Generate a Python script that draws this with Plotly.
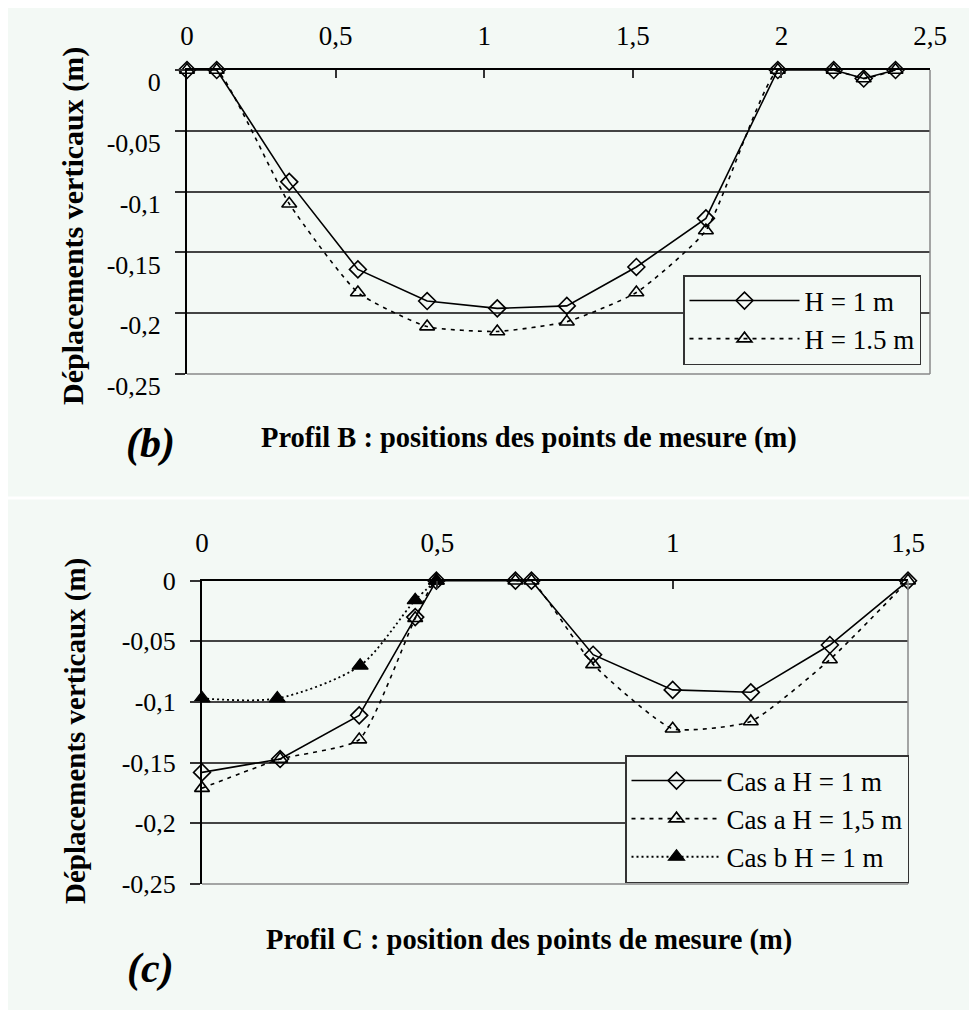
import plotly.graph_objects as go

# ---------------- data: Profil B ----------------
x_b = [0, 0.1, 0.344, 0.575, 0.808, 1.044, 1.278, 1.512, 1.746, 1.988, 2.176, 2.277, 2.384]
h1_b = [0, 0, -0.092, -0.164, -0.190, -0.196, -0.194, -0.162, -0.122, 0, 0, -0.007, 0]
h15_b = [0, 0, -0.110, -0.183, -0.211, -0.215, -0.207, -0.183, -0.132, 0, 0, -0.007, 0]

# ---------------- data: Profil C ----------------
x_c = [0, 0.166, 0.334, 0.453, 0.498, 0.666, 0.700, 0.831, 1.0, 1.166, 1.334, 1.5]
a_h1_c = [-0.158, -0.147, -0.111, -0.030, 0, 0, 0, -0.061, -0.090, -0.092, -0.053, 0]
a_h15_c = [-0.171, -0.147, -0.131, -0.031, 0, 0, 0, -0.069, -0.122, -0.116, -0.065, 0]
x_cb = [0, 0.16, 0.336, 0.453, 0.498]
b_h1_c = [-0.097, -0.097, -0.070, -0.016, 0]

# ---------------- tick labels ----------------
xb_vals = [0, 0.5, 1, 1.5, 2, 2.5]
xb_text = ["0", "0,5", "1", "1,5", "2", "2,5"]
xc_vals = [0, 0.5, 1, 1.5]
xc_text = ["0", "0,5", "1", "1,5"]
y_vals = [0, -0.05, -0.1, -0.15, -0.2, -0.25]
y_text = ["0", "-0,05", "-0,1", "-0,15", "-0,2", "-0,25"]

names_b = ["H = 1 m", "H = 1.5 m"]
names_c = ["Cas a H = 1 m", "Cas a H = 1,5 m", "Cas b H = 1 m"]

BG = "#f3f9f5"
SERIF = "Liberation Serif"

# figure sits at an 8px page offset: work in screen pixels, convert to paper
W, H = 969, 1002
OFF = 8


def px(x):
    return (x - OFF) / W


def py(y):
    return 1 - (y - OFF) / H


fig = go.Figure()

mk_open_d = dict(symbol="diamond-open", size=13, color="black", line=dict(width=1.6, color="black"))
mk_open_t = dict(symbol="triangle-up-open", size=13, color="black", line=dict(width=1.6, color="black"))
mk_fill_t = dict(symbol="triangle-up", size=14, color="black", line=dict(width=1.2, color="black"))

# top chart
fig.add_trace(go.Scatter(x=x_b, y=h1_b, name=names_b[0], mode="lines+markers",
                         line=dict(color="black", width=1.6), marker=mk_open_d,
                         xaxis="x", yaxis="y", legend="legend", legendgroup="b1", cliponaxis=False))
fig.add_trace(go.Scatter(x=x_b, y=h15_b, name=names_b[1], mode="lines+markers",
                         line=dict(color="black", width=1.6, dash="4px,5px", shape="spline", smoothing=0.5),
                         marker=mk_open_t,
                         xaxis="x", yaxis="y", legend="legend", legendgroup="b2", cliponaxis=False))

# bottom chart
fig.add_trace(go.Scatter(x=x_c, y=a_h1_c, name=names_c[0], mode="lines+markers",
                         line=dict(color="black", width=1.6), marker=mk_open_d,
                         xaxis="x2", yaxis="y2", legend="legend2", legendgroup="c1", cliponaxis=False))
fig.add_trace(go.Scatter(x=x_c, y=a_h15_c, name=names_c[1], mode="lines+markers",
                         line=dict(color="black", width=1.6, dash="4px,5px", shape="spline", smoothing=0.5),
                         marker=mk_open_t,
                         xaxis="x2", yaxis="y2", legend="legend2", legendgroup="c2", cliponaxis=False))
fig.add_trace(go.Scatter(x=x_cb, y=b_h1_c, name=names_c[2], mode="lines+markers",
                         line=dict(color="black", width=1.8, dash="2px,3px", shape="spline", smoothing=0.8),
                         marker=mk_fill_t,
                         xaxis="x2", yaxis="y2", legend="legend2", legendgroup="c3", cliponaxis=False))

tickfont = dict(family=SERIF, size=26, color="black")


def xaxis_cfg(domain, rng, vals, text, anchor, standoff):
    return dict(domain=domain, range=rng, side="top", anchor=anchor, automargin=False,
                tickmode="array", tickvals=vals, ticktext=text,
                ticks="inside", ticklen=8, tickwidth=1.5, tickcolor="#333",
                showline=True, linecolor="black", linewidth=2,
                showgrid=False, zeroline=False, tickfont=dict(family=SERIF, size=27, color="black"),
                ticklabelstandoff=standoff, fixedrange=True)


def yaxis_cfg(domain, anchor, shift):
    return dict(domain=domain, range=[-0.25, 0], anchor=anchor, automargin=False,
                tickmode="array", tickvals=y_vals, ticktext=y_text,
                ticks="outside", ticklen=10, tickwidth=1.5, tickcolor="#333",
                showline=True, linecolor="black", linewidth=2,
                showgrid=True, gridcolor="#444", gridwidth=1.5, zeroline=False,
                tickfont=tickfont, ticklabelstandoff=9, ticklabelshift=shift, fixedrange=True)


fig.update_layout(
    template="none",
    width=W, height=H, autosize=False,
    margin=dict(l=0, r=0, t=0, b=0, pad=0),
    paper_bgcolor=BG, plot_bgcolor=BG,
    font=dict(family=SERIF, color="black"),
    xaxis=xaxis_cfg([px(187), px(930)], [0, 2.5], xb_vals, xb_text, "y", 12),
    yaxis=yaxis_cfg([py(374), py(70)], "x", 12),
    xaxis2=xaxis_cfg([px(202), px(908)], [0, 1.5], xc_vals, xc_text, "y2", 16),
    yaxis2=yaxis_cfg([py(884), py(580.7)], "x2", 0),
    legend=dict(x=px(921), y=py(365), xanchor="right", yanchor="bottom",
                bgcolor=BG, bordercolor="#333", borderwidth=1.5,
                font=dict(family=SERIF, size=27, color="black"),
                itemwidth=110, tracegroupgap=0, traceorder="grouped"),
    legend2=dict(x=px(909), y=py(883), xanchor="right", yanchor="bottom",
                 bgcolor=BG, bordercolor="#333", borderwidth=1.5,
                 font=dict(family=SERIF, size=27, color="black"),
                 itemwidth=90, tracegroupgap=0, traceorder="grouped"),
    showlegend=True,
)

# white separator between the two panels
fig.add_shape(type="rect", xref="paper", yref="paper", x0=0, x1=1, y0=py(499.5), y1=py(496.5),
              fillcolor="white", line=dict(width=0), layer="below")

# right / bottom plot frame
for xr, yr in (("x domain", "y domain"), ("x2 domain", "y2 domain")):
    fig.add_shape(type="line", xref=xr, yref=yr, x0=1, x1=1, y0=0, y1=1,
                  line=dict(color="#888", width=1.5))
    fig.add_shape(type="line", xref=xr, yref=yr, x0=0, x1=1, y0=0, y1=0,
                  line=dict(color="#888", width=1.5))

ytitle = "Déplacements verticaux (m)"
ann = [
    dict(text=ytitle, x=px(73), y=py(226), textangle=-90, font=dict(size=30, family=SERIF)),
    dict(text=ytitle, x=px(75), y=py(731), textangle=-90, font=dict(size=29, family=SERIF)),
    dict(text="Profil B : positions des points de mesure (m)", x=px(529), y=py(438),
         font=dict(size=28.5, family=SERIF)),
    dict(text="Profil C : position des points de mesure (m)", x=px(529), y=py(940),
         font=dict(size=28.5, family=SERIF)),
    dict(text="<i>(b)</i>", x=px(150), y=py(443), font=dict(size=42, family=SERIF)),
    dict(text="<i>(c)</i>", x=px(150), y=py(968), font=dict(size=42, family=SERIF)),
]
for a in ann:
    a["text"] = "<b>" + a["text"] + "</b>"
    fig.add_annotation(xref="paper", yref="paper", showarrow=False, xanchor="center", yanchor="middle", **a)

fig.write_html("out.html")
